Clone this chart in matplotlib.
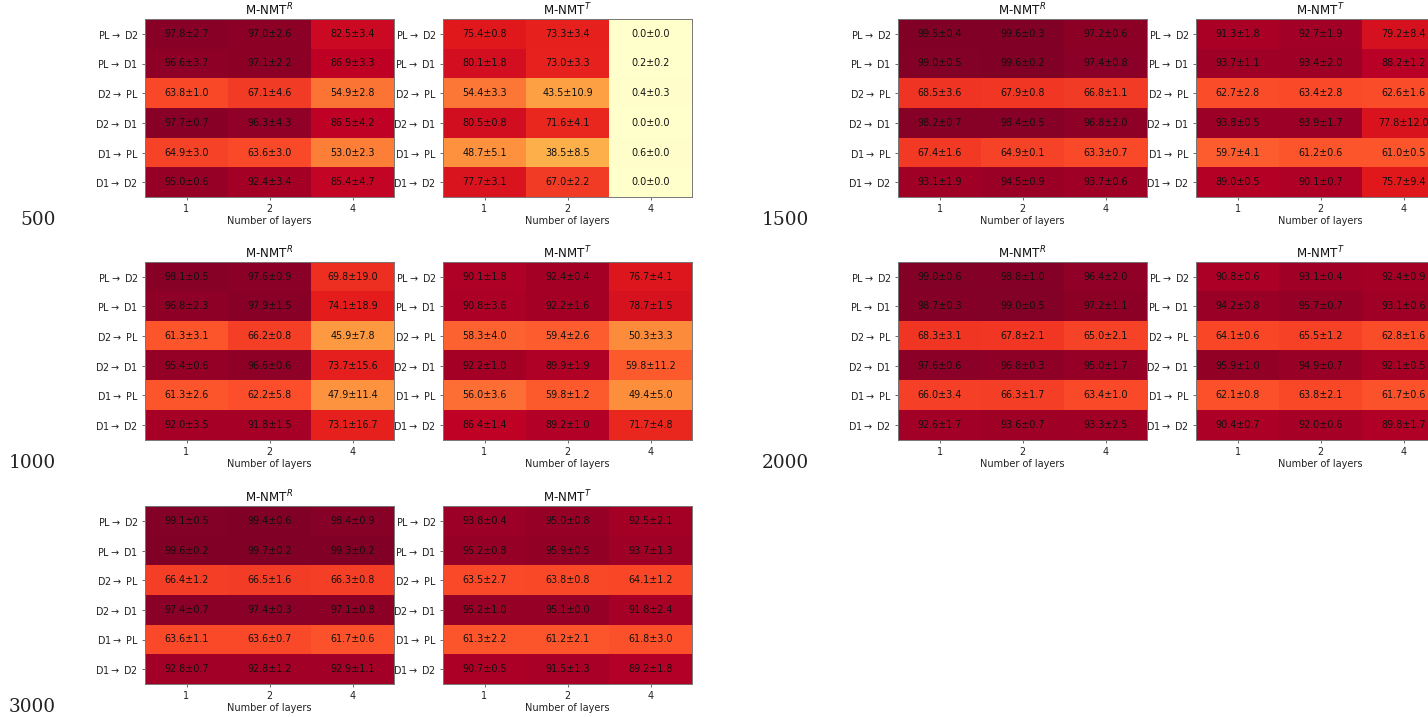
import matplotlib
matplotlib.use("Agg")
import matplotlib.pyplot as plt
import numpy as np

pairs = [r"PL$\rightarrow$ D2", r"PL$\rightarrow$ D1", r"D2$\rightarrow$ PL",
         r"D2$\rightarrow$ D1", r"D1$\rightarrow$ PL", r"D1$\rightarrow$ D2"]
layers = ["1", "2", "4"]
sizes = ["500", "1000", "3000", "1500", "2000"]

# rows follow `pairs`, columns follow `layers`
mean_500_R = [[97.8, 97.0, 82.5], [96.6, 97.1, 86.9], [63.8, 67.1, 54.9],
              [97.7, 96.3, 86.5], [64.9, 63.6, 53.0], [95.0, 92.4, 85.4]]
std_500_R = [[2.7, 2.6, 3.4], [3.7, 2.2, 3.3], [1.0, 4.6, 2.8],
             [0.7, 4.3, 4.2], [3.0, 3.0, 2.3], [0.6, 3.4, 4.7]]
mean_500_T = [[75.4, 73.3, 0.0], [80.1, 73.0, 0.2], [54.4, 43.5, 0.4],
              [80.5, 71.6, 0.0], [48.7, 38.5, 0.6], [77.7, 67.0, 0.0]]
std_500_T = [[0.8, 3.4, 0.0], [1.8, 3.3, 0.2], [3.3, 10.9, 0.3],
             [0.8, 4.1, 0.0], [5.1, 8.5, 0.0], [3.1, 2.2, 0.0]]

mean_1000_R = [[98.1, 97.6, 69.8], [96.8, 97.9, 74.1], [61.3, 66.2, 45.9],
               [95.4, 96.6, 73.7], [61.3, 62.2, 47.9], [92.0, 91.8, 73.1]]
std_1000_R = [[0.5, 0.9, 19.0], [2.3, 1.5, 18.9], [3.1, 0.8, 7.8],
              [0.6, 0.6, 15.6], [2.6, 5.8, 11.4], [3.5, 1.5, 16.7]]
mean_1000_T = [[90.1, 92.4, 76.7], [90.8, 92.2, 78.7], [58.3, 59.4, 50.3],
               [92.2, 89.9, 59.8], [56.0, 59.8, 49.4], [86.4, 89.2, 71.7]]
std_1000_T = [[1.8, 0.4, 4.1], [3.6, 1.6, 1.5], [4.0, 2.6, 3.3],
              [1.0, 1.9, 11.2], [3.6, 1.2, 5.0], [1.4, 1.0, 4.8]]

mean_3000_R = [[99.1, 99.4, 98.4], [99.6, 99.7, 99.3], [66.4, 66.5, 66.3],
               [97.4, 97.4, 97.1], [63.6, 63.6, 61.7], [92.8, 92.8, 92.9]]
std_3000_R = [[0.5, 0.6, 0.9], [0.2, 0.2, 0.2], [1.2, 1.6, 0.8],
              [0.7, 0.3, 0.8], [1.1, 0.7, 0.6], [0.7, 1.2, 1.1]]
mean_3000_T = [[93.8, 95.0, 92.5], [95.2, 95.9, 93.7], [63.5, 63.8, 64.1],
               [95.2, 95.1, 91.8], [61.3, 61.2, 61.8], [90.7, 91.5, 89.2]]
std_3000_T = [[0.4, 0.8, 2.1], [0.8, 0.5, 1.3], [2.7, 0.8, 1.2],
              [1.0, 0.0, 2.4], [2.2, 2.1, 3.0], [0.5, 1.3, 1.8]]

mean_1500_R = [[99.5, 99.6, 97.2], [99.0, 99.6, 97.4], [68.5, 67.9, 66.8],
               [98.2, 98.4, 96.8], [67.4, 64.9, 63.3], [93.1, 94.5, 93.7]]
std_1500_R = [[0.4, 0.3, 0.6], [0.5, 0.2, 0.8], [3.6, 0.8, 1.1],
              [0.7, 0.5, 2.0], [1.6, 0.1, 0.7], [1.9, 0.9, 0.6]]
mean_1500_T = [[91.3, 92.7, 79.2], [93.7, 93.4, 88.2], [62.7, 63.4, 62.6],
               [93.8, 93.9, 77.8], [59.7, 61.2, 61.0], [89.0, 90.1, 75.7]]
std_1500_T = [[1.8, 1.9, 8.4], [1.1, 2.0, 1.2], [2.8, 2.8, 1.6],
              [0.5, 1.7, 12.0], [4.1, 0.6, 0.5], [0.5, 0.7, 9.4]]

mean_2000_R = [[99.0, 98.8, 96.4], [98.7, 99.0, 97.2], [68.3, 67.8, 65.0],
               [97.6, 96.8, 95.0], [66.0, 66.3, 63.4], [92.6, 93.6, 93.3]]
std_2000_R = [[0.6, 1.0, 2.0], [0.3, 0.5, 1.1], [3.1, 2.1, 2.1],
              [0.6, 0.3, 1.7], [3.4, 1.7, 1.0], [1.7, 0.7, 2.5]]
mean_2000_T = [[90.8, 93.1, 92.4], [94.2, 95.7, 93.1], [64.1, 65.5, 62.8],
               [95.9, 94.9, 92.1], [62.1, 63.8, 61.7], [90.4, 92.0, 89.8]]
std_2000_T = [[0.6, 0.4, 0.9], [0.8, 0.7, 0.6], [0.6, 1.2, 1.6],
              [1.0, 0.7, 0.5], [0.8, 2.1, 0.6], [0.7, 0.6, 1.7]]

panels = {
    "500": (mean_500_R, std_500_R, mean_500_T, std_500_T),
    "1000": (mean_1000_R, std_1000_R, mean_1000_T, std_1000_T),
    "3000": (mean_3000_R, std_3000_R, mean_3000_T, std_3000_T),
    "1500": (mean_1500_R, std_1500_R, mean_1500_T, std_1500_T),
    "2000": (mean_2000_R, std_2000_R, mean_2000_T, std_2000_T),
}

W, H = 1428, 717
fig = plt.figure(figsize=(W / 100, H / 100), dpi=100)

# pixel layout: (column left of R map, row top)
place = {"500": (145, 19), "1000": (145, 262), "3000": (145, 506),
         "1500": (898, 19), "2000": (898, 262)}
aw, ah, gap = 249, 178, 298


def heat(ax, mean, std, title):
    mean = np.array(mean)
    std = np.array(std)
    ax.imshow(mean, cmap="YlOrRd", vmin=0, vmax=100, aspect="auto",
              interpolation="nearest")
    for i in range(mean.shape[0]):
        for j in range(mean.shape[1]):
            ax.text(j, i, "%.1f±%.1f" % (mean[i, j], std[i, j]),
                    ha="center", va="center", fontsize=6.9, color="#111")
    ax.set_xticks(range(len(layers)))
    ax.set_xticklabels(layers)
    ax.set_yticks(range(len(pairs)))
    ax.set_yticklabels(pairs)
    ax.tick_params(labelsize=6.9, length=2.5, width=0.6, color="#555",
                   labelcolor="#222", pad=2.5)
    ax.set_xlabel("Number of layers", fontsize=7.0, color="#222", labelpad=1.5)
    ax.set_title(title, fontsize=8.6, pad=3, color="#111")
    for s in ax.spines.values():
        s.set_color("#777")
        s.set_linewidth(0.7)


for size in sizes:
    x0, top = place[size]
    mR, sR, mT, sT = panels[size]
    bottom = (H - top - ah) / H
    axR = fig.add_axes([x0 / W, bottom, aw / W, ah / H])
    heat(axR, mR, sR, r"M-NMT$^R$")
    axT = fig.add_axes([(x0 + gap) / W, bottom, aw / W, ah / H])
    heat(axT, mT, sT, r"M-NMT$^T$")
    fig.text((x0 - 89) / W, 1 - (top + 201) / H, size, ha="right", va="center",
             fontsize=13.3, family="DejaVu Serif", color="#222")

fig.savefig("out.png", dpi=100)
